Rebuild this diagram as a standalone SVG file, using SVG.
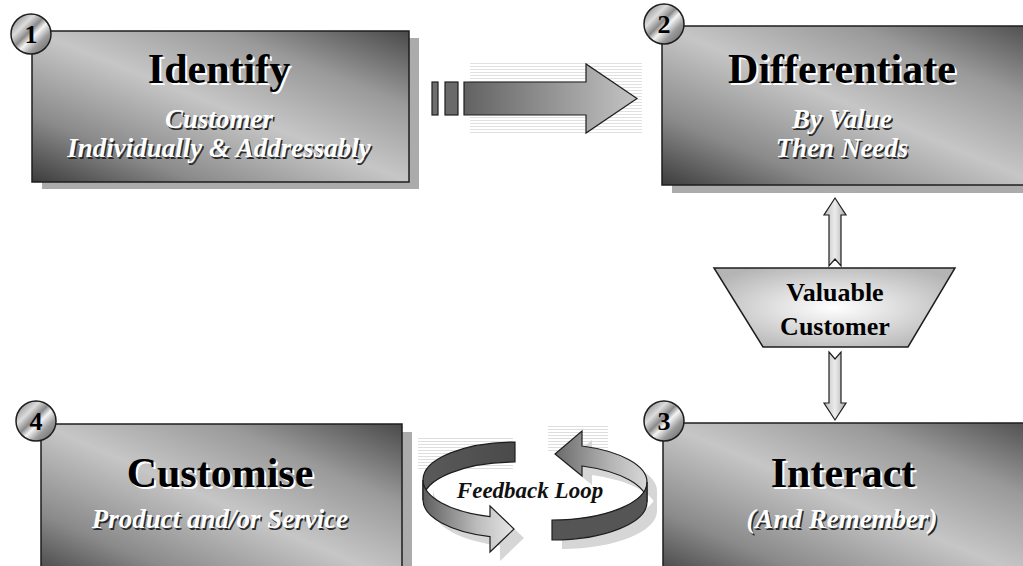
<svg xmlns="http://www.w3.org/2000/svg" width="1023" height="566" viewBox="0 0 1023 566">
<defs>
  <linearGradient id="boxg" x1="0" y1="1" x2="1" y2="0">
    <stop offset="0" stop-color="#3c3c3c"/>
    <stop offset="0.22" stop-color="#8a8a8a"/>
    <stop offset="0.5" stop-color="#c6c6c6"/>
    <stop offset="0.75" stop-color="#9a9a9a"/>
    <stop offset="1" stop-color="#4a4a4a"/>
  </linearGradient>
  <linearGradient id="coin" x1="0" y1="0" x2="1" y2="1">
    <stop offset="0" stop-color="#6e6e6e"/>
    <stop offset="0.3" stop-color="#dcdcdc"/>
    <stop offset="0.45" stop-color="#8a8a8a"/>
    <stop offset="0.56" stop-color="#f4f4f4"/>
    <stop offset="0.72" stop-color="#9a9a9a"/>
    <stop offset="1" stop-color="#5e5e5e"/>
  </linearGradient>
  <linearGradient id="bigarrow" x1="0" y1="0" x2="1" y2="0">
    <stop offset="0" stop-color="#626262"/>
    <stop offset="1" stop-color="#c4c4c4"/>
  </linearGradient>
  <linearGradient id="vert" x1="0" y1="0" x2="1" y2="0">
    <stop offset="0" stop-color="#bdbdbd"/>
    <stop offset="0.5" stop-color="#ececec"/>
    <stop offset="1" stop-color="#a8a8a8"/>
  </linearGradient>
  <radialGradient id="trap" cx="0.5" cy="0.5" r="0.6">
    <stop offset="0" stop-color="#ffffff"/>
    <stop offset="1" stop-color="#b4b4b4"/>
  </radialGradient>
  <linearGradient id="darkband" x1="0" y1="0" x2="1" y2="0">
    <stop offset="0" stop-color="#5a5a5a"/>
    <stop offset="1" stop-color="#4a4a4a"/>
  </linearGradient>
  <linearGradient id="lightband" x1="0" y1="0" x2="1" y2="0">
    <stop offset="0" stop-color="#5e5e5e"/>
    <stop offset="0.6" stop-color="#bdbdbd"/>
    <stop offset="1" stop-color="#e6e6e6"/>
  </linearGradient>
  <linearGradient id="backband" x1="0" y1="0" x2="1" y2="0">
    <stop offset="0" stop-color="#6a6a6a"/>
    <stop offset="0.6" stop-color="#b4b4b4"/>
    <stop offset="1" stop-color="#d8d8d8"/>
  </linearGradient>
  <pattern id="speed" width="4" height="3" patternUnits="userSpaceOnUse">
    <rect width="4" height="1" fill="#dedede"/>
  </pattern>
  <linearGradient id="fadeR" x1="0" y1="0" x2="1" y2="0">
    <stop offset="0" stop-color="#fff" stop-opacity="0"/>
    <stop offset="1" stop-color="#fff" stop-opacity="1"/>
  </linearGradient>
  <mask id="speedmask" maskContentUnits="objectBoundingBox">
    <rect width="1" height="1" fill="url(#fadeR)"/>
  </mask>
</defs>
<style>
  .box { fill: url(#boxg); stroke: #1e1e1e; stroke-width: 1.5; }
  .shadow { fill: #ababab; }
  .coin { fill: url(#coin); stroke: #1e1e1e; stroke-width: 1.5; }
  .num { font-family: "Liberation Serif", serif; font-weight: bold; font-size: 26px; fill: #000; text-anchor: middle; }
  .title { font-family: "Liberation Serif", serif; font-weight: bold; font-size: 42px; text-anchor: middle; }
  .title.s { fill: #ffffff; }
  .title.m { fill: #000000; }
  .sub { font-family: "Liberation Serif", serif; font-weight: bold; font-style: italic; font-size: 27px; text-anchor: middle; }
  .sub.s { fill: #2a2a2a; }
  .sub.m { fill: #ffffff; }
  .edge { stroke: #1e1e1e; stroke-width: 1.2; stroke-linejoin: miter; }
  .fshadow { fill: #d6d6d6; }
  .lbl { font-family: "Liberation Serif", serif; font-weight: bold; font-size: 26px; text-anchor: middle; fill: #000; }
  .loop { font-family: "Liberation Serif", serif; font-weight: bold; font-style: italic; font-size: 23px; text-anchor: middle; }
</style>
<rect width="1023" height="566" fill="#ffffff"/>

<g id="connectors">
  <!-- big arrow between Identify and Differentiate -->
  <g id="arrow-1-2">
    <rect x="470" y="63" width="172" height="71" fill="url(#speed)" opacity="0.9"/>
    <rect x="432" y="82" width="6" height="33" fill="#6e6e6e" class="edge"/>
    <rect x="445" y="82" width="13" height="33" fill="#6a6a6a" class="edge"/>
    <path d="M464,82 L586,82 L586,64 L637,98.5 L586,133 L586,115 L464,115 Z" fill="url(#bigarrow)" class="edge"/>
  </g>
  <!-- vertical double arrows -->
  <g id="arrow-2-vc">
    <path d="M835,198 L846,215 L841,215 L841,266 L835,259 L829,266 L829,215 L824,215 Z" fill="url(#vert)" class="edge"/>
  </g>
  <g id="arrow-vc-3">
    <path d="M829,352 L835,359 L841,352 L841,403 L846,403 L835,420 L824,403 L829,403 Z" fill="url(#vert)" class="edge"/>
  </g>
  <!-- feedback loop -->
  <g id="feedback-loop">
    <rect x="418" y="436" width="95" height="34" fill="url(#speed)"/>
    <rect x="548" y="426" width="60" height="26" fill="url(#speed)"/>
    <!-- shadows -->
    <path transform="translate(10,9)" class="fshadow" d="M423,480 A92,38 0 0 0 490,516.6 L490,506 L514,529 L490,552 L490,536.6 A92,38 0 0 1 423,500 Z"/>
    <path transform="translate(10,9)" class="fshadow" d="M552,520 A95,38 0 0 0 647,482 L647,502 A95,38 0 0 1 552,540 Z"/>
    <path transform="translate(10,9)" class="fshadow" d="M647,482 A95,38 0 0 0 582,446 L582,431 L555,454 L582,476 L582,466 A95,38 0 0 1 647,502 Z"/>
    <!-- right arrow back face -->
    <path d="M647,482 A95,38 0 0 0 582,446 L582,431 L555,454 L582,476 L582,466 A95,38 0 0 1 647,502 Z" fill="url(#backband)" class="edge"/>
    <!-- left arrow back face (dark) -->
    <path d="M515,442 A92,38 0 0 0 423,480 L423,500 A92,38 0 0 1 515,462 Z" fill="url(#darkband)" class="edge"/>
    <!-- left arrow front face -->
    <path d="M423,480 A92,38 0 0 0 490,516.6 L490,506 L514,529 L490,552 L490,536.6 A92,38 0 0 1 423,500 Z" fill="url(#lightband)" class="edge"/>
    <!-- right arrow front face (dark) -->
    <path d="M552,520 A95,38 0 0 0 647,482 L647,502 A95,38 0 0 1 552,540 Z" fill="#555555" class="edge"/>
    <text x="530" y="498" class="loop" fill="#ffffff" dx="1.5" dy="1.5">Feedback Loop</text>
    <text x="530" y="498" class="loop" fill="#111111">Feedback Loop</text>
  </g>
</g>

<g id="node-identify">
  <rect x="42" y="38" width="377" height="151" class="shadow"/>
  <rect x="32" y="31" width="377" height="151" class="box"/>
  <text x="221" y="85" class="title s">Identify</text>
  <text x="219" y="83" class="title m">Identify</text>
  <text x="220.5" y="129.5" class="sub s">Customer</text>
  <text x="219" y="128" class="sub m">Customer</text>
  <text x="220.5" y="158.5" class="sub s">Individually &amp; Addressably</text>
  <text x="219" y="157" class="sub m">Individually &amp; Addressably</text>
  <circle cx="31" cy="34" r="20" class="coin"/>
  <text x="31" y="43" class="num">1</text>
</g>

<g id="node-differentiate">
  <rect x="672" y="33" width="380" height="160" class="shadow"/>
  <rect x="662" y="26" width="380" height="159" class="box"/>
  <text x="844" y="85" class="title s">Differentiate</text>
  <text x="842" y="83" class="title m">Differentiate</text>
  <text x="843.5" y="129.5" class="sub s">By Value</text>
  <text x="842" y="128" class="sub m">By Value</text>
  <text x="843.5" y="158.5" class="sub s">Then Needs</text>
  <text x="842" y="157" class="sub m">Then Needs</text>
  <circle cx="664" cy="24" r="20" class="coin"/>
  <text x="664" y="33" class="num">2</text>
</g>

<g id="node-valuable-customer">
  <path d="M714,268 L955,268 L908,347 L763,347 Z" fill="url(#trap)" stroke="#1e1e1e" stroke-width="1.5"/>
  <text x="835" y="301" class="lbl">Valuable</text>
  <text x="835" y="335" class="lbl">Customer</text>
</g>

<g id="node-interact">
  <rect x="673" y="430" width="380" height="160" class="shadow"/>
  <rect x="663" y="423" width="380" height="160" class="box"/>
  <text x="845" y="489" class="title s">Interact</text>
  <text x="843" y="487" class="title m">Interact</text>
  <text x="843.5" y="529.5" class="sub s">(And Remember)</text>
  <text x="842" y="528" class="sub m">(And Remember)</text>
  <circle cx="664" cy="421" r="20" class="coin"/>
  <text x="664" y="430" class="num">3</text>
</g>

<g id="node-customise">
  <rect x="51" y="432" width="361" height="160" class="shadow"/>
  <rect x="41" y="424" width="361" height="160" class="box"/>
  <text x="222" y="489" class="title s">Customise</text>
  <text x="220" y="487" class="title m">Customise</text>
  <text x="221.5" y="529.5" class="sub s">Product and/or Service</text>
  <text x="220" y="528" class="sub m">Product and/or Service</text>
  <circle cx="36" cy="421" r="20" class="coin"/>
  <text x="36" y="430" class="num">4</text>
</g>
</svg>
